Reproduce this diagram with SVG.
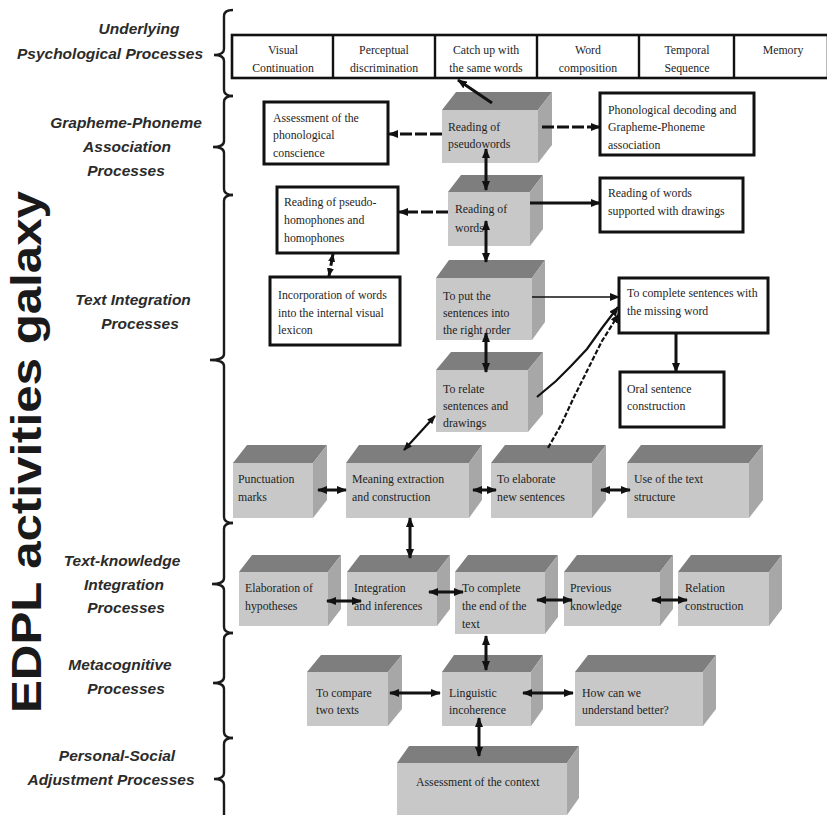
<svg xmlns="http://www.w3.org/2000/svg" width="827" height="815" viewBox="0 0 827 815">
<style>
.lbl{font-family:"Liberation Sans",Arial,sans-serif;font-weight:bold;font-style:italic;font-size:15.5px;fill:#2b2b2b;text-anchor:middle}
.t{font-family:"Liberation Serif","Times New Roman",serif;font-size:11.8px;fill:#1e1e1e}
.tc{font-family:"Liberation Serif","Times New Roman",serif;font-size:11.8px;fill:#1e1e1e;text-anchor:middle}
.front{fill:#c8c8c8}
.top{fill:#7e7e7e}
.side{fill:#a7a7a7}
.wbox{fill:#fff;stroke:#111;stroke-width:3}
.brace{fill:none;stroke:#1a1a1a;stroke-width:2.4}
.c{fill:none;stroke:#111;stroke-width:3}
.cd{fill:none;stroke:#111;stroke-width:3;stroke-dasharray:12 3}
.cthin{fill:none;stroke:#111;stroke-width:1.4}
.cmid{fill:none;stroke:#111;stroke-width:2.2}
</style>
<defs>
<marker id="ah" viewBox="0 0 10 8" refX="9" refY="4" markerWidth="10" markerHeight="8" markerUnits="userSpaceOnUse" orient="auto-start-reverse"><path d="M0,0 L10,4 L0,8 z" fill="#111"/></marker>
<marker id="ahs" viewBox="0 0 10 8" refX="9" refY="4" markerWidth="9" markerHeight="7" markerUnits="userSpaceOnUse" orient="auto-start-reverse"><path d="M0,0 L10,4 L0,8 z" fill="#111"/></marker>
</defs>
<rect width="827" height="815" fill="#fff"/>

<g id="title">
<text transform="translate(41,452) rotate(-90)" font-family="'Liberation Sans',Arial,sans-serif" font-weight="bold" font-size="43" fill="#1a1a1a" text-anchor="middle" textLength="522" lengthAdjust="spacingAndGlyphs">EDPL activities galaxy</text>
</g>

<g id="labels">
<text class="lbl" x="139" y="34">Underlying</text>
<text class="lbl" x="110" y="59">Psychological Processes</text>
<text class="lbl" x="126" y="128">Grapheme-Phoneme</text>
<text class="lbl" x="127" y="152">Association</text>
<text class="lbl" x="126" y="176">Processes</text>
<text class="lbl" x="133" y="305">Text Integration</text>
<text class="lbl" x="140" y="329">Processes</text>
<text class="lbl" x="122" y="566">Text-knowledge</text>
<text class="lbl" x="124" y="590">Integration</text>
<text class="lbl" x="126" y="613">Processes</text>
<text class="lbl" x="120" y="670">Metacognitive</text>
<text class="lbl" x="126" y="694">Processes</text>
<text class="lbl" x="117" y="761">Personal-Social</text>
<text class="lbl" x="111" y="785">Adjustment  Processes</text>
</g>

<g id="braces">
<path class="brace" d="M233,10 Q224,10 224,16 L224,49 Q224,55 214,55 Q224,55 224,61 L224,90 Q224,96 233,96"/>
<path class="brace" d="M233,96 Q224,96 224,102 L224,141 Q224,147 213,147 Q224,147 224,153 L224,189 Q224,195 233,195"/>
<path class="brace" d="M233,195 Q224,195 224,201 L224,354 Q224,360 210,360 Q224,360 224,366 L224,517 Q224,523 233,523"/>
<path class="brace" d="M233,523 Q224,523 224,529 L224,578 Q224,584 212,584 Q224,584 224,590 L224,627 Q224,633 233,633"/>
<path class="brace" d="M233,633 Q224,633 224,639 L224,677 Q224,683 213,683 Q224,683 224,689 L224,732 Q224,738 233,738"/>
<path class="brace" d="M233,738 Q224,738 224,744 L224,773 Q224,779 214,779 Q224,779 224,785 L224,816"/>
</g>

<g id="underlying">
<rect x="232" y="35" width="596" height="43" fill="#fff" stroke="#111" stroke-width="2.6"/>
<path d="M333,35 V78 M435,35 V78 M537,35 V78 M639,35 V78 M734,35 V78" stroke="#111" stroke-width="2.4"/>
<text class="tc" x="283" y="54">Visual</text><text class="tc" x="283" y="72">Continuation</text>
<text class="tc" x="384" y="54">Perceptual</text><text class="tc" x="384" y="72">discrimination</text>
<text class="tc" x="486" y="54">Catch up with</text><text class="tc" x="486" y="72">the same words</text>
<text class="tc" x="588" y="54">Word</text><text class="tc" x="588" y="72">composition</text>
<text class="tc" x="687" y="54">Temporal</text><text class="tc" x="687" y="72">Sequence</text>
<text class="tc" x="783" y="54">Memory</text>
</g>

<g id="n-assess-phon">
<rect class="wbox" x="264" y="102" width="124" height="62"/>
<text class="t" x="273" y="122">Assessment of the</text><text class="t" x="273" y="139">phonological</text><text class="t" x="273" y="157">conscience</text>
</g>
<g id="n-pseudowords">
<polygon class="top" points="442,110 456,92 552,92 538,110"/><polygon class="side" points="538,110 552,92 552,145 538,163"/><rect class="front" x="442" y="110" width="96" height="53"/>
<text class="t" x="448" y="131">Reading of</text><text class="t" x="448" y="148">pseudowords</text>
</g>
<g id="n-phon-decoding">
<rect class="wbox" x="600" y="93" width="154" height="62"/>
<text class="t" x="608" y="114">Phonological decoding and</text><text class="t" x="608" y="131">Grapheme-Phoneme</text><text class="t" x="608" y="149">association</text>
</g>
<g id="n-words">
<polygon class="top" points="448,192 461,175 543,175 530,192"/><polygon class="side" points="530,192 543,175 543,229 530,246"/><rect class="front" x="448" y="192" width="82" height="54"/>
<text class="t" x="455" y="213">Reading of</text><text class="t" x="455" y="232">words</text>
</g>
<g id="n-pseudo-homophones">
<rect class="wbox" x="277" y="187" width="121" height="66"/>
<text class="t" x="284" y="206">Reading of pseudo-</text><text class="t" x="284" y="224">homophones and</text><text class="t" x="284" y="242">homophones</text>
</g>
<g id="n-words-drawings">
<rect class="wbox" x="600" y="178" width="143" height="54"/>
<text class="t" x="608" y="197">Reading of words</text><text class="t" x="608" y="215">supported with drawings</text>
</g>
<g id="n-incorporation">
<rect class="wbox" x="270" y="277" width="130" height="68"/>
<text class="t" x="278" y="299">Incorporation of words</text><text class="t" x="278" y="317">into the internal visual</text><text class="t" x="278" y="334">lexicon</text>
</g>
<g id="n-put-order">
<polygon class="top" points="436,278 449,260 545,260 532,278"/><polygon class="side" points="532,278 545,260 545,322 532,340"/><rect class="front" x="436" y="278" width="96" height="62"/>
<text class="t" x="443" y="300">To put the</text><text class="t" x="443" y="317">sentences into</text><text class="t" x="443" y="334">the right order</text>
</g>
<g id="n-complete-sentences">
<rect class="wbox" x="619" y="278" width="149" height="55"/>
<text class="t" x="627" y="297">To complete sentences with</text><text class="t" x="627" y="315">the missing word</text>
</g>
<g id="n-oral">
<rect class="wbox" x="620" y="372" width="104" height="55"/>
<text class="t" x="627" y="393">Oral sentence</text><text class="t" x="627" y="410">construction</text>
</g>
<g id="n-relate">
<polygon class="top" points="436,370 451,352 543,352 528,370"/><polygon class="side" points="528,370 543,352 543,414 528,432"/><rect class="front" x="436" y="370" width="92" height="62"/>
<text class="t" x="443" y="393">To relate</text><text class="t" x="443" y="410">sentences and</text><text class="t" x="443" y="427">drawings</text>
</g>

<g id="n-punctuation">
<polygon class="top" points="233,463 247,445 327,445 313,463"/><polygon class="side" points="313,463 327,445 327,500 313,518"/><rect class="front" x="233" y="463" width="80" height="55"/>
<text class="t" x="238" y="483">Punctuation</text><text class="t" x="238" y="501">marks</text>
</g>
<g id="n-meaning">
<polygon class="top" points="346,463 359,445 482,445 469,463"/><polygon class="side" points="469,463 482,445 482,500 469,518"/><rect class="front" x="346" y="463" width="123" height="55"/>
<text class="t" x="352" y="483">Meaning extraction</text><text class="t" x="352" y="501">and construction</text>
</g>
<g id="n-elaborate">
<polygon class="top" points="491,463 505,445 606,445 592,463"/><polygon class="side" points="592,463 606,445 606,500 592,518"/><rect class="front" x="491" y="463" width="101" height="55"/>
<text class="t" x="497" y="483">To elaborate</text><text class="t" x="497" y="501">new sentences</text>
</g>
<g id="n-text-structure">
<polygon class="top" points="627,463 641,445 763,445 749,463"/><polygon class="side" points="749,463 763,445 763,500 749,518"/><rect class="front" x="627" y="463" width="122" height="55"/>
<text class="t" x="634" y="483">Use of the text</text><text class="t" x="634" y="501">structure</text>
</g>

<g id="n-hypotheses">
<polygon class="top" points="239,572 252,555 341,555 328,572"/><polygon class="side" points="328,572 341,555 341,609 328,626"/><rect class="front" x="239" y="572" width="89" height="54"/>
<text class="t" x="245" y="592">Elaboration of</text><text class="t" x="245" y="610">hypotheses</text>
</g>
<g id="n-integration">
<polygon class="top" points="347,572 360,555 450,555 437,572"/><polygon class="side" points="437,572 450,555 450,609 437,626"/><rect class="front" x="347" y="572" width="90" height="54"/>
<text class="t" x="354" y="592">Integration</text><text class="t" x="354" y="610">and inferences</text>
</g>
<g id="n-complete-end">
<polygon class="top" points="455,572 468,555 558,555 545,572"/><polygon class="side" points="545,572 558,555 558,617 545,634"/><rect class="front" x="455" y="572" width="90" height="62"/>
<text class="t" x="462" y="592">To complete</text><text class="t" x="462" y="610">the end of the</text><text class="t" x="462" y="628">text</text>
</g>
<g id="n-previous">
<polygon class="top" points="564,572 577,555 673,555 660,572"/><polygon class="side" points="660,572 673,555 673,609 660,626"/><rect class="front" x="564" y="572" width="96" height="54"/>
<text class="t" x="570" y="592">Previous</text><text class="t" x="570" y="610">knowledge</text>
</g>
<g id="n-relation">
<polygon class="top" points="678,572 691,555 782,555 769,572"/><polygon class="side" points="769,572 782,555 782,609 769,626"/><rect class="front" x="678" y="572" width="91" height="54"/>
<text class="t" x="685" y="592">Relation</text><text class="t" x="685" y="610">construction</text>
</g>

<g id="n-compare">
<polygon class="top" points="307,672 321,655 402,655 388,672"/><polygon class="side" points="388,672 402,655 402,709 388,726"/><rect class="front" x="307" y="672" width="81" height="54"/>
<text class="t" x="316" y="697">To compare</text><text class="t" x="316" y="714">two texts</text>
</g>
<g id="n-linguistic">
<polygon class="top" points="442,672 454,655 543,655 531,672"/><polygon class="side" points="531,672 543,655 543,709 531,726"/><rect class="front" x="442" y="672" width="89" height="54"/>
<text class="t" x="449" y="697">Linguistic</text><text class="t" x="449" y="714">incoherence</text>
</g>
<g id="n-understand">
<polygon class="top" points="575,672 588,655 716,655 703,672"/><polygon class="side" points="703,672 716,655 716,709 703,726"/><rect class="front" x="575" y="672" width="128" height="54"/>
<text class="t" x="582" y="697">How can we</text><text class="t" x="582" y="714">understand better?</text>
</g>
<g id="n-context">
<polygon class="top" points="397,763 409,746 579,746 567,763"/><polygon class="side" points="567,763 579,746 579,798 567,815"/><rect class="front" x="397" y="763" width="170" height="52"/>
<text class="t" x="416" y="786">Assessment of the context</text>
</g>

<g id="connectors">
<path class="c" d="M492,103 L458,80" marker-end="url(#ah)"/>
<path class="cd" d="M442,134 L389,134" marker-end="url(#ah)"/>
<path class="cd" d="M542,127 L600,127" marker-end="url(#ah)"/>
<path class="c" d="M486,149 L486,190" marker-start="url(#ah)" marker-end="url(#ah)"/>
<path class="cd" d="M448,212 L399,212" marker-end="url(#ah)"/>
<path class="cd" d="M333,254 L329,276" marker-start="url(#ahs)" marker-end="url(#ahs)"/>
<path class="c" d="M530,203 L600,203" marker-end="url(#ah)"/>
<path class="c" d="M486,221 L486,262" marker-start="url(#ah)" marker-end="url(#ah)"/>
<path class="cthin" d="M532,297 L619,297" marker-end="url(#ah)"/>
<path class="c" d="M676,333 L676,372" marker-end="url(#ah)"/>
<path class="c" d="M486,333 L486,372" marker-start="url(#ah)" marker-end="url(#ah)"/>
<path class="cmid" d="M537,397 L556,381 L571,366 L587,349 L602,328 L618,307" marker-end="url(#ah)"/>
<path class="cmid" d="M548,448 L561,425 L574,397 L588,369 L602,341 L619,314" stroke-dasharray="5 2" marker-end="url(#ah)"/>
<path class="cmid" d="M404,450 L435,416" marker-start="url(#ahs)" marker-end="url(#ahs)"/>
<path class="c" d="M318,490 L346,490" marker-start="url(#ah)" marker-end="url(#ah)"/>
<path class="c" d="M473,490 L496,490" marker-start="url(#ah)" marker-end="url(#ah)"/>
<path class="c" d="M601,490 L630,490" marker-start="url(#ah)" marker-end="url(#ah)"/>
<path class="c" d="M410,518 L410,558" marker-start="url(#ah)" marker-end="url(#ah)"/>
<path class="c" d="M327,601 L361,601" marker-start="url(#ah)" marker-end="url(#ah)"/>
<path class="c" d="M429,592 L463,592" marker-start="url(#ah)" marker-end="url(#ah)"/>
<path class="c" d="M537,600 L572,600" marker-start="url(#ah)" marker-end="url(#ah)"/>
<path class="c" d="M652,600 L687,600" marker-start="url(#ah)" marker-end="url(#ah)"/>
<path class="c" d="M486,636 L486,670" marker-start="url(#ah)" marker-end="url(#ah)"/>
<path class="c" d="M390,693 L440,693" marker-start="url(#ah)" marker-end="url(#ah)"/>
<path class="c" d="M523,693 L573,693" marker-start="url(#ah)" marker-end="url(#ah)"/>
<path class="c" d="M479,718 L479,756" marker-start="url(#ah)" marker-end="url(#ah)"/>
</g>
</svg>
